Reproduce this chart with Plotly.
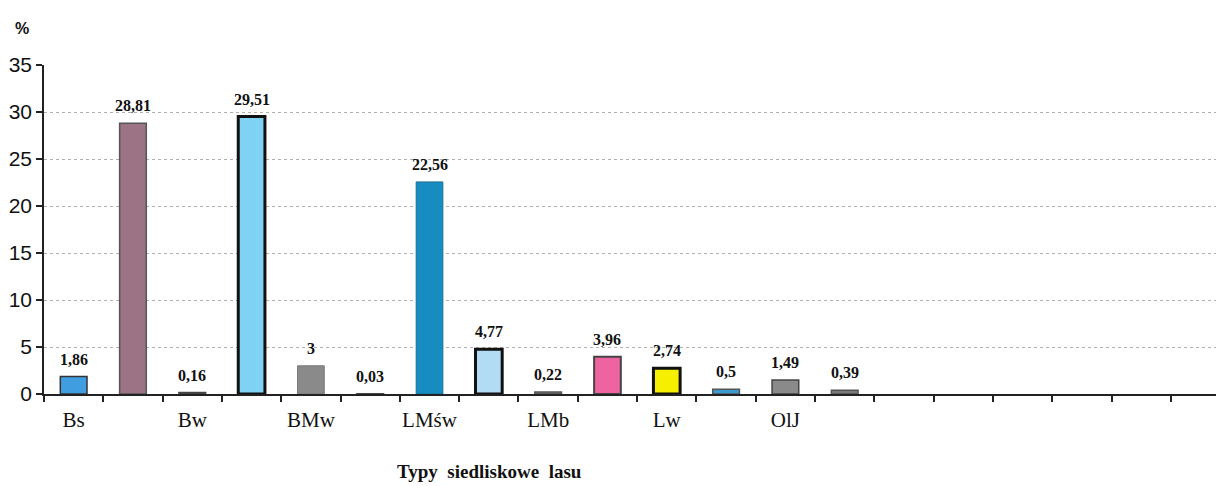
import plotly.graph_objects as go

# Data
values = [1.86, 28.81, 0.16, 29.51, 3, 0.03, 22.56, 4.77, 0.22, 3.96, 2.74, 0.5, 1.49, 0.39]
tick_labels = ["Bs", "Bw", "BMw", "LMśw", "LMb", "Lw", "OlJ"]

fill_colors = ["#3f9de0", "#9b7385", "#5f5f5f", "#80d2f4", "#8a8a8a", "#555555", "#168cc0",
               "#b2dcf4", "#707070", "#ee64a0", "#f6f000", "#3a9ad0", "#8a8a8a", "#7a7a7a"]
line_colors = ["#333333", "#555555", "#444444", "#111111", "#777777", "#444444", "#1b6c92",
               "#111111", "#555555", "#444444", "#111111", "#555555", "#444444", "#555555"]
line_widths = [1.5, 1.5, 1.5, 3, 1, 1.5, 1, 3, 1.5, 2, 3, 1.5, 1.5, 1.5]

labels = [f"{v:g}".replace(".", ",") for v in values]
xs = list(range(len(values)))

fig = go.Figure()
fig.add_trace(go.Bar(
    x=xs, y=values, width=0.45,
    marker=dict(color=fill_colors, line=dict(color=line_colors, width=line_widths)),
    showlegend=False, hoverinfo="x+y",
))

# value labels above bars, placed at the data coordinates
value_annotations = [
    dict(x=x, y=v, xref="x", yref="y", text=f"<b>{t}</b>", showarrow=False,
         xanchor="center", yanchor="bottom", yshift=7,
         font=dict(family="Liberation Serif", size=16, color="#111111"))
    for x, v, t in zip(xs, values, labels)
]

fig.update_layout(
    width=1216, height=486,
    margin=dict(l=44, r=0, t=65, b=92),
    plot_bgcolor="white", paper_bgcolor="white",
    font=dict(family="Liberation Serif", color="#111111"),
    xaxis=dict(
        type="linear",
        range=[-0.5, 19.26],
        tickmode="array",
        tickvals=[0, 2, 4, 6, 8, 10, 12],
        ticktext=tick_labels,
        ticks="",
        ticklabelstandoff=6,
        showgrid=False,
        zeroline=False,
        showline=True, linecolor="#222222", linewidth=1.5,
        tickfont=dict(family="Liberation Serif", size=21, color="#111111"),
        minor=dict(tick0=-0.5, dtick=1, ticks="outside", ticklen=6,
                   tickcolor="#222222", tickwidth=1.5, showgrid=False),
    ),
    yaxis=dict(
        range=[0, 35],
        tickmode="linear", tick0=0, dtick=5,
        ticks="outside", ticklen=6, tickcolor="#222222", tickwidth=1.5,
        showline=True, linecolor="#222222", linewidth=1.5,
        showgrid=True, gridcolor="#b0b0b0", griddash="dot", gridwidth=1,
        zeroline=False,
        tickfont=dict(family="Liberation Sans", size=21, color="#111111"),
    ),
    annotations=value_annotations + [
        dict(text="<b>%</b>", xref="paper", yref="paper", x=-0.019, y=1.112,
             showarrow=False, xanchor="center", yanchor="middle",
             font=dict(family="Liberation Sans", size=16, color="#111111")),
        dict(text="<b>Typy  siedliskowe  lasu</b>", xref="paper", yref="paper",
             x=0.38, y=-0.237, showarrow=False, xanchor="center", yanchor="middle",
             font=dict(family="Liberation Serif", size=19, color="#111111")),
    ],
)

fig.write_html(
    "out.html",
    config={"displayModeBar": False},
    post_script="document.body.style.margin='0px';document.body.style.overflow='hidden';",
)
